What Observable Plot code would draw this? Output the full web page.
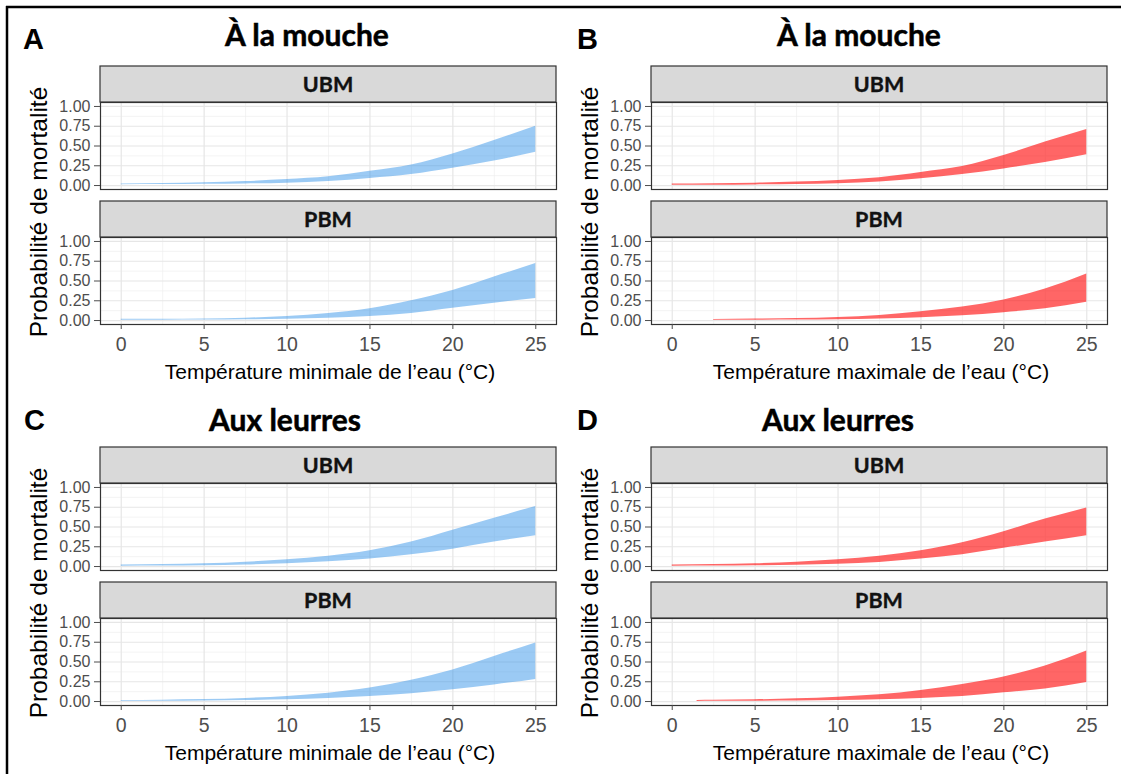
<!DOCTYPE html>
<html><head><meta charset="utf-8">
<script src="https://cdn.jsdelivr.net/npm/d3@7"></script>
<script src="https://cdn.jsdelivr.net/npm/@observablehq/plot@0.6"></script>
<style>
body{margin:0;background:#fff;}
#root{position:relative;width:1121px;height:774px;overflow:hidden;background:#fff;}
</style>
</head><body><div id="root"></div>
<script>
// ---- data ----
const facets = ["UBM", "PBM"];
const xMajor = [0, 5, 10, 15, 20, 25];
const xMinor = [2.5, 7.5, 12.5, 17.5, 22.5];
const yMajor = [0, 0.25, 0.5, 0.75, 1];
const yMinor = [0.125, 0.375, 0.625, 0.875];

const titleFly = "À la mouche";
const titleLure = "Aux leurres";
const xTitleMin = "Température minimale de l’eau (°C)";
const xTitleMax = "Température maximale de l’eau (°C)";
const yTitle = "Probabilité de mortalité";

const tempFull = [0, 2.5, 5, 7.5, 10, 12.5, 15, 17.5, 20, 22.5, 25];
const tempBPbm = [2.5, 5, 7.5, 10, 12.5, 15, 17.5, 20, 22.5, 25];
const tempDPbm = [1.5, 2.5, 5, 7.5, 10, 12.5, 15, 17.5, 20, 22.5, 25];

const aUbmLo = [0.010, 0.012, 0.015, 0.020, 0.030, 0.050, 0.090, 0.140, 0.220, 0.310, 0.420];
const aUbmHi = [0.020, 0.025, 0.035, 0.050, 0.075, 0.110, 0.180, 0.260, 0.400, 0.570, 0.750];
const aPbmLo = [0.004, 0.005, 0.007, 0.010, 0.017, 0.030, 0.050, 0.090, 0.155, 0.220, 0.280];
const aPbmHi = [0.015, 0.016, 0.020, 0.030, 0.050, 0.090, 0.150, 0.250, 0.380, 0.550, 0.720];

const bUbmLo = [0.005, 0.005, 0.008, 0.012, 0.022, 0.045, 0.087, 0.140, 0.210, 0.290, 0.390];
const bUbmHi = [0.018, 0.022, 0.030, 0.045, 0.065, 0.100, 0.165, 0.240, 0.380, 0.550, 0.710];
const bPbmLo = [0.003, 0.004, 0.006, 0.010, 0.018, 0.035, 0.060, 0.100, 0.150, 0.230];
const bPbmHi = [0.013, 0.018, 0.025, 0.040, 0.065, 0.110, 0.170, 0.260, 0.400, 0.590];

const cUbmLo = [0.005, 0.007, 0.010, 0.020, 0.035, 0.060, 0.095, 0.150, 0.220, 0.310, 0.390];
const cUbmHi = [0.020, 0.025, 0.035, 0.055, 0.086, 0.130, 0.200, 0.310, 0.460, 0.610, 0.760];
const cPbmLo = [0.003, 0.004, 0.007, 0.012, 0.022, 0.040, 0.064, 0.100, 0.150, 0.210, 0.280];
const cPbmHi = [0.013, 0.017, 0.025, 0.040, 0.065, 0.105, 0.170, 0.270, 0.400, 0.570, 0.740];

const dUbmLo = [0.005, 0.006, 0.010, 0.017, 0.030, 0.052, 0.095, 0.150, 0.230, 0.310, 0.390];
const dUbmHi = [0.020, 0.025, 0.035, 0.055, 0.085, 0.130, 0.200, 0.300, 0.440, 0.600, 0.740];
const dPbmLo = [0.002, 0.003, 0.004, 0.007, 0.013, 0.022, 0.040, 0.065, 0.110, 0.160, 0.240];
const dPbmHi = [0.014, 0.016, 0.022, 0.035, 0.055, 0.085, 0.140, 0.215, 0.310, 0.450, 0.640];

// ---- layout / styles ----
const blueFill = "#2b8fe8", blueOp = 0.47;
const redFill = "#ff0000", redOp = 0.6;

const panels = [
  {letter: "A", title: titleFly, xTitle: xTitleMin, left: 0, top: 66, fill: blueFill, op: blueOp,
   series: [["UBM", tempFull, aUbmLo, aUbmHi], ["PBM", tempFull, aPbmLo, aPbmHi]],
   titleX: 307, titleY: 46, letterX: 23, letterY: 49, xTitleY: 379, yTitleX: 47, yTitleY: 212},
  {letter: "B", title: titleFly, xTitle: xTitleMax, left: 551, top: 66, fill: redFill, op: redOp,
   series: [["UBM", tempFull, bUbmLo, bUbmHi], ["PBM", tempBPbm, bPbmLo, bPbmHi]],
   titleX: 859, titleY: 46, letterX: 577, letterY: 49, xTitleY: 379, yTitleX: 598, yTitleY: 212},
  {letter: "C", title: titleLure, xTitle: xTitleMin, left: 0, top: 447, fill: blueFill, op: blueOp,
   series: [["UBM", tempFull, cUbmLo, cUbmHi], ["PBM", tempFull, cPbmLo, cPbmHi]],
   titleX: 285, titleY: 431, letterX: 24, letterY: 430, xTitleY: 760, yTitleX: 47, yTitleY: 593},
  {letter: "D", title: titleLure, xTitle: xTitleMax, left: 551, top: 447, fill: redFill, op: redOp,
   series: [["UBM", tempFull, dUbmLo, dUbmHi], ["PBM", tempDPbm, dPbmLo, dPbmHi]],
   titleX: 838, titleY: 431, letterX: 577, letterY: 430, xTitleY: 760, yTitleX: 598, yTitleY: 593}
];

const root = document.getElementById("root");
const ov = d3.select(root).append("svg")
  .attr("width", 1121).attr("height", 774)
  .style("position", "absolute").style("left", "0px").style("top", "0px");

// outer black frame (top + left)
ov.append("line").attr("x1", 6).attr("x2", 1121).attr("y1", 7).attr("y2", 7).attr("stroke", "#000").attr("stroke-width", 2.5);
ov.append("line").attr("x1", 7).attr("x2", 7).attr("y1", 6).attr("y2", 774).attr("stroke", "#000").attr("stroke-width", 2.5);

const W = 557, ML = 100, MR = 1, MT = 36, MB = 50, BAND = 87, GAP = 48, STRIP = 36;
const H = MT + BAND * 2 + GAP + MB;

for (const p of panels) {
  const rows = [];
  for (const [facet, t, lo, hi] of p.series) t.forEach((x, i) => rows.push({facet, x, lo: lo[i], hi: hi[i]}));

  const plot = Plot.plot({
    width: W, height: H,
    marginLeft: ML, marginRight: MR, marginTop: MT, marginBottom: MB,
    style: {fontFamily: "'Liberation Sans', Arial, sans-serif", fontSize: "16px", color: "#4d4d4d", background: "transparent", overflow: "visible"},
    x: {domain: [-1.25, 26.25]},
    y: {domain: [-0.05, 1.05]},
    fy: {domain: facets, paddingInner: GAP / (BAND + GAP), paddingOuter: 0, axis: null, label: null},
    marks: [
      Plot.ruleX(xMinor, {stroke: "#efefef", strokeWidth: 0.7}),
      Plot.ruleY(yMinor, {stroke: "#efefef", strokeWidth: 0.7}),
      Plot.ruleX(xMajor, {stroke: "#e6e6e6", strokeWidth: 1.2}),
      Plot.ruleY(yMajor, {stroke: "#e6e6e6", strokeWidth: 1.2}),
      Plot.areaY(rows, {x: "x", y1: "lo", y2: "hi", fy: "facet", fill: p.fill, fillOpacity: p.op, curve: "monotone-x"}),
      Plot.frame({stroke: "#333", strokeWidth: 1.2}),
      Plot.axisX({ticks: xMajor, tickSize: 5, tickPadding: 8, fontSize: 19.5, label: null}),
      Plot.axisY({ticks: yMajor, tickSize: 6, tickPadding: 4, tickFormat: d3.format(".2f"), fontSize: 16, label: null})
    ]
  });
  plot.style.position = "absolute";
  plot.style.left = p.left + "px";
  plot.style.top = p.top + "px";
  root.appendChild(plot);

  // facet strips drawn from the facet scale
  let fyScale = null;
  try { fyScale = plot.scale("fy"); } catch (e) { fyScale = null; }
  const svg = d3.select(plot);
  facets.forEach((k, i) => {
    const bandTop = fyScale && fyScale.apply ? fyScale.apply(k) : MT + i * (BAND + GAP);
    const y0 = bandTop - STRIP;
    const g = svg.append("g").attr("aria-label", "strip");
    g.append("rect").attr("x", ML).attr("y", y0).attr("width", W - ML - MR).attr("height", STRIP)
      .attr("fill", "#d9d9d9").attr("stroke", "#333").attr("stroke-width", 1.2);
    g.append("text").attr("x", ML + (W - ML - MR) / 2).attr("y", y0 + 26)
      .attr("text-anchor", "middle").attr("font-family", "Lato, 'Open Sans', sans-serif")
      .attr("font-weight", "bold").attr("font-size", 21.5).attr("fill", "#111")
      .attr("stroke", "#111").attr("stroke-width", 0.35).text(k);
  });

  // panel letter, title, axis titles
  ov.append("text").attr("x", p.letterX).attr("y", p.letterY)
    .attr("font-family", "'Liberation Sans', Arial, sans-serif").attr("font-weight", "bold")
    .attr("font-size", 29).attr("fill", "#000").text(p.letter);
  ov.append("text").attr("x", p.titleX).attr("y", p.titleY).attr("text-anchor", "middle")
    .attr("font-family", "Lato, 'Open Sans', sans-serif").attr("font-weight", "bold")
    .attr("font-size", 30).attr("fill", "#000").attr("stroke", "#000").attr("stroke-width", 0.5).text(p.title);
  ov.append("text").attr("x", p.left + ML + (W - ML - MR) / 2 + 2).attr("y", p.xTitleY).attr("text-anchor", "middle")
    .attr("font-family", "'Liberation Sans', Arial, sans-serif").attr("font-size", 21).attr("fill", "#000").text(p.xTitle);
  ov.append("text").attr("transform", `translate(${p.yTitleX},${p.yTitleY}) rotate(-90)`).attr("text-anchor", "middle")
    .attr("font-family", "'Liberation Sans', Arial, sans-serif").attr("font-size", 24.5).attr("fill", "#000").text(yTitle);
}
</script>
</body></html>
